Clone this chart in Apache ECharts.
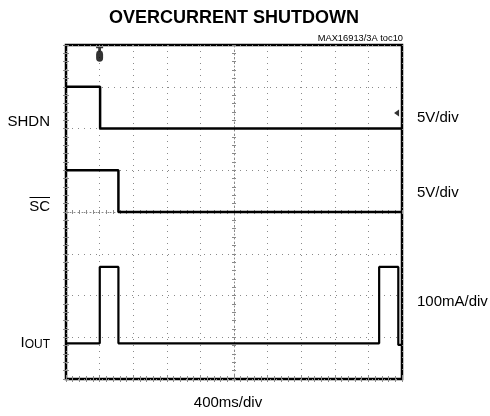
<!DOCTYPE html>
<html>
<head>
<meta charset="utf-8">
<script src="https://cdn.jsdelivr.net/npm/echarts@6/dist/echarts.min.js"></script>
<style>html,body{margin:0;padding:0;background:#fff;}#c{width:490px;height:416px;}</style>
</head>
<body>
<div id="c"></div>
<script>
// ---- data (time in ms, 400 ms/div, 10 div) ----
const timeTicks = [0, 400, 800, 1200, 1600, 2000, 2400, 2800, 3200, 3600, 4000];
// SHDN (V), 5 V/div, ground at division 6
const shdnTime = [0, 406, 406, 4000];
const shdnVolts = [5, 5, 0, 0];
// SC (V), 5 V/div, ground at division 4
const scTime = [0, 624, 624, 4000];
const scVolts = [5, 5, 0, 0];
// IOUT (mA), 100 mA/div, ground at division 0.855
const ioutTime = [0, 402, 402, 624, 624, 3728, 3728, 3956, 3956, 4000];
const ioutMilliamps = [0, 0, 183, 183, 0, 0, 183, 183, -4, -4];
// channel scales / ground offsets (divisions)
const channelScale = { shdn: 5, sc: 5, iout: 100 };
const channelGround = { shdn: 6, sc: 4, iout: 0.855 };
// trigger marker (time) and trigger level marker on SHDN (V)
const triggerTime = [400];
const triggerLevelTime = [3935];
const triggerLevelVolts = [1.85];

function toDiv(times, vals, ch) {
  return times.map((t, i) => [t, channelGround[ch] + vals[i] / channelScale[ch]]);
}

const chart = echarts.init(document.getElementById('c'), null, { renderer: 'canvas' });
const FONT = '"Liberation Sans", Arial, Helvetica, sans-serif';
const gridColor = '#8a8a8a';

function xAx(extra) {
  return Object.assign({
    type: 'value', min: 0, max: 4000, interval: 400,
    axisLabel: { show: false },
    splitLine: { show: false },
    axisLine: { show: false },
    axisTick: { show: true, inside: true, length: 3, lineStyle: { color: gridColor } },
    minorTick: { show: true, splitNumber: 5, length: 3, lineStyle: { color: gridColor } }
  }, extra);
}
function yAx(extra) {
  return Object.assign({
    type: 'value', min: 0, max: 8, interval: 1,
    axisLabel: { show: false },
    splitLine: { show: false },
    axisLine: { show: false },
    axisTick: { show: true, inside: true, length: 3, lineStyle: { color: gridColor } },
    minorTick: { show: true, splitNumber: 5, length: 3, lineStyle: { color: gridColor } }
  }, extra);
}

const gridH = 334, gridW = 336;

const option = {
  animation: false,
  backgroundColor: '#fff',
  grid: { left: 66, right: 88, top: 45, bottom: 37, show: true, borderColor: '#000', borderWidth: 2.5, backgroundColor: 'transparent' },
  xAxis: [
    xAx({ position: 'bottom', splitLine: { show: true, lineStyle: { color: gridColor, type: [1, 5], width: 1 } } }),
    xAx({ position: 'top' }),
    xAx({ position: 'bottom', offset: -gridH / 2, axisLine: { show: true, lineStyle: { color: gridColor, type: [1, 3] } }, axisTick: { show: true, inside: true, length: 2, lineStyle: { color: gridColor } }, minorTick: { show: true, splitNumber: 5, length: 2, lineStyle: { color: gridColor } } }),
    xAx({ position: 'bottom', offset: -gridH / 2, axisTick: { show: true, inside: false, length: 2, lineStyle: { color: gridColor } }, minorTick: { show: true, splitNumber: 5, length: 2, lineStyle: { color: gridColor } } })
  ],
  yAxis: [
    yAx({ position: 'left', splitLine: { show: true, lineStyle: { color: gridColor, type: [1, 5], width: 1 } } }),
    yAx({ position: 'right' }),
    yAx({ position: 'left', offset: -gridW / 2, axisLine: { show: true, lineStyle: { color: gridColor, type: [1, 3] } }, axisTick: { show: true, inside: true, length: 2, lineStyle: { color: gridColor } }, minorTick: { show: true, splitNumber: 5, length: 2, lineStyle: { color: gridColor } } }),
    yAx({ position: 'left', offset: -gridW / 2, axisTick: { show: true, inside: false, length: 2, lineStyle: { color: gridColor } }, minorTick: { show: true, splitNumber: 5, length: 2, lineStyle: { color: gridColor } } })
  ],
  series: [
    { name: 'SHDN', type: 'line', data: toDiv(shdnTime, shdnVolts, 'shdn'), symbol: 'none', lineStyle: { color: '#000', width: 2.5 }, z: 5 },
    { name: 'SC', type: 'line', data: toDiv(scTime, scVolts, 'sc'), symbol: 'none', lineStyle: { color: '#000', width: 2.5 }, z: 5 },
    { name: 'IOUT', type: 'line', data: toDiv(ioutTime, ioutMilliamps, 'iout'), symbol: 'none', lineStyle: { color: '#000', width: 2.2 }, z: 5 },
    { name: 'trigger', type: 'scatter', data: triggerTime.map(t => [t, 7.78]), symbol: 'path://M0,0 L10,0 L10,2 L7,2 L7,5 Q10,6 10,10 L10,15 Q10,20 5,20 Q0,20 0,15 L0,10 Q0,6 3,5 L3,2 L0,2 Z', symbolSize: [7, 15], itemStyle: { color: '#000' }, z: 6 },
    { name: 'level', type: 'scatter', data: triggerLevelTime.map((t, i) => [t, channelGround.shdn + triggerLevelVolts[i] / channelScale.shdn]), symbol: 'triangle', symbolRotate: 90, symbolSize: [7, 5], itemStyle: { color: '#000' }, z: 6 }
  ],
  graphic: [
    { type: 'text', style: { x: 234, y: 18, text: 'OVERCURRENT SHUTDOWN', font: 'bold 18px ' + FONT, fill: '#000', textAlign: 'center', textVerticalAlign: 'middle' } },
    { type: 'text', style: { x: 403, y: 38, text: 'MAX16913/3A toc10', font: '9.3px ' + FONT, fill: '#000', textAlign: 'right', textVerticalAlign: 'middle' } },
    { type: 'text', style: { x: 50, y: 122, text: 'SHDN', font: '15px ' + FONT, fill: '#000', textAlign: 'right', textVerticalAlign: 'middle' } },
    { type: 'text', style: { x: 50, y: 207, text: 'SC', font: '15px ' + FONT, fill: '#000', textAlign: 'right', textVerticalAlign: 'middle' } },
    { type: 'line', shape: { x1: 29.5, y1: 197.5, x2: 50, y2: 197.5 }, style: { stroke: '#000', lineWidth: 1 } },
    { type: 'text', style: { x: 50, y: 343, text: '{a|I}{b|OUT}', rich: { a: { fontSize: 15, fontFamily: FONT, fill: '#000' }, b: { fontSize: 12, fontFamily: FONT, fill: '#000', padding: [4, 0, 0, 0] } }, textAlign: 'right', textVerticalAlign: 'middle' } },
    { type: 'text', style: { x: 417, y: 118, text: '5V/div', font: '15px ' + FONT, fill: '#000', textAlign: 'left', textVerticalAlign: 'middle' } },
    { type: 'text', style: { x: 417, y: 193, text: '5V/div', font: '15px ' + FONT, fill: '#000', textAlign: 'left', textVerticalAlign: 'middle' } },
    { type: 'text', style: { x: 417, y: 302, text: '100mA/div', font: '15px ' + FONT, fill: '#000', textAlign: 'left', textVerticalAlign: 'middle' } },
    { type: 'text', style: { x: 228, y: 403, text: '400ms/div', font: '15px ' + FONT, fill: '#000', textAlign: 'center', textVerticalAlign: 'middle' } }
  ]
};
chart.setOption(option);
</script>
</body>
</html>
